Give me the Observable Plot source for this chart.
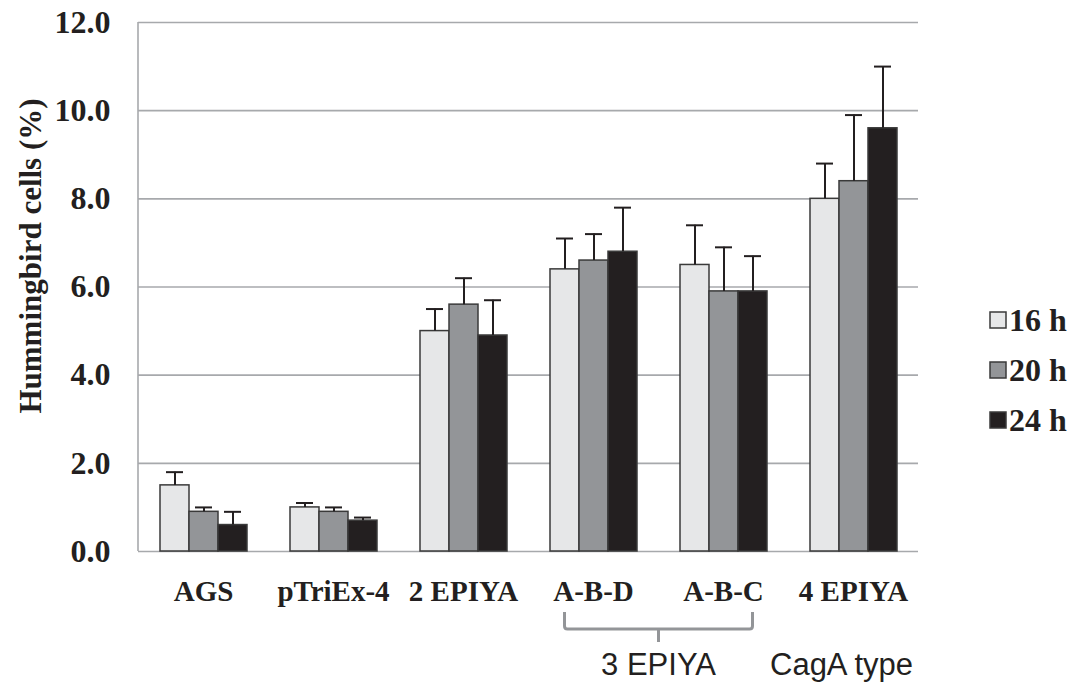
<!DOCTYPE html>
<html><head><meta charset="utf-8">
<script src="https://cdn.jsdelivr.net/npm/d3@7"></script>
<script src="https://cdn.jsdelivr.net/npm/@observablehq/plot@0.6"></script>
<style>body{margin:0;background:#fff}</style>
</head><body><div id="chart"></div>
<script>
const categories = ["AGS", "pTriEx-4", "2 EPIYA", "A-B-D", "A-B-C", "4 EPIYA"];
const series = ["16 h", "20 h", "24 h"];
const values16 = [1.5, 1.0, 5.0, 6.4, 6.5, 8.0];
const values20 = [0.9, 0.9, 5.6, 6.6, 5.9, 8.4];
const values24 = [0.6, 0.7, 4.9, 6.8, 5.9, 9.6];
const errors16 = [0.3, 0.1, 0.5, 0.7, 0.9, 0.8];
const errors20 = [0.1, 0.1, 0.6, 0.6, 1.0, 1.5];
const errors24 = [0.3, 0.07, 0.8, 1.0, 0.8, 1.4];
const colors = ["#e6e7e8", "#939598", "#231f20"];
const yTicks = [0, 2, 4, 6, 8, 10, 12];
const yLabel = "Hummingbird cells (%)";
const groupLabel = "3 EPIYA";
const groupMembers = ["A-B-D", "A-B-C"];
const axisNote = "CagA type";

const valueSets = [values16, values20, values24];
const errorSets = [errors16, errors20, errors24];
const rows = [];
categories.forEach((c, i) => series.forEach((s, j) => rows.push({category: c, series: s, value: valueSets[j][i], error: errorSets[j][i]})));

const serif = "'Liberation Serif', 'Times New Roman', serif";
const sans = "'Liberation Sans', Arial, sans-serif";
const W = 1072, H = 686, mL = 138, mR = 154, mT = 22, mB = 135;

const plot = Plot.plot({
  width: W, height: H, marginTop: mT, marginBottom: mB, marginLeft: mL, marginRight: mR,
  style: {background: "#fff", fontFamily: serif, color: "#231f20"},
  fx: {domain: categories, padding: 0, label: null, axis: null},
  x: {domain: series, paddingInner: 0, paddingOuter: 0.74, axis: null},
  y: {domain: [0, 12], axis: null},
  color: {domain: series, range: colors},
  marks: [
    Plot.ruleY(yTicks, {stroke: "#a7a9ac", strokeWidth: 1.6}),
    Plot.barY(rows, {fx: "category", x: "series", y: "value", fill: "series", stroke: "#3a3a3a", strokeWidth: 1.5}),
    Plot.ruleX(rows, {fx: "category", x: "series", y1: "value", y2: d => d.value + d.error, stroke: "#231f20", strokeWidth: 2}),
    Plot.tickY(rows, {fx: "category", x: "series", y: d => d.value + d.error, stroke: "#231f20", strokeWidth: 2, insetLeft: 6, insetRight: 6}),
    Plot.axisFx({anchor: "bottom", tickSize: 0, tickPadding: 29, fontSize: 29, fontWeight: "bold", label: null}),
    Plot.axisY({ticks: yTicks, tickFormat: d => d.toFixed(1), tickSize: 0, tickPadding: 28, fontSize: 32, fontWeight: "bold", label: null})
  ]
});
document.getElementById("chart").appendChild(plot);

const svg = d3.select(plot);
const fx = plot.scale("fx"), xs = plot.scale("x"), ys = plot.scale("y");
const px = (c, s) => fx.apply(c) + (xs.apply(s) - xs.range[0]) + xs.bandwidth / 2;

// left axis line
svg.append("line").attr("x1", mL).attr("x2", mL)
  .attr("y1", ys.apply(12)).attr("y2", ys.apply(0))
  .attr("stroke", "#a7a9ac").attr("stroke-width", 1.6);

// y label
svg.append("text").attr("transform", "translate(30,256) rotate(-90)")
  .attr("text-anchor", "middle").attr("dominant-baseline", "central")
  .attr("font-family", serif).attr("font-size", 31).attr("font-weight", "bold")
  .attr("fill", "#231f20").text(yLabel);

// bracket
const bx1 = px(groupMembers[0], series[0]), bx2 = px(groupMembers[1], series[2]), bm = (bx1 + bx2) / 2;
const by0 = 612, by1 = 629, by2 = 642;
svg.append("path")
  .attr("d", `M${bx1},${by0}V${by1 - 3}Q${bx1},${by1} ${bx1 + 3},${by1}H${bx2 - 3}Q${bx2},${by1} ${bx2},${by1 - 3}V${by0}M${bm},${by1}V${by2}`)
  .attr("fill", "none").attr("stroke", "#939598").attr("stroke-width", 3);
svg.append("text").attr("x", bm).attr("y", 675).attr("text-anchor", "middle")
  .attr("font-family", sans).attr("font-size", 31)
  .attr("fill", "#231f20").text(groupLabel);
svg.append("text").attr("x", fx.apply(categories[5]) - 18).attr("y", 675).attr("text-anchor", "start")
  .attr("font-family", sans).attr("font-size", 31)
  .attr("fill", "#231f20").text(axisNote);

// legend
const lg = svg.append("g").attr("text-anchor", "start");
series.forEach((s, j) => {
  const cy = 320 + j * 50;
  lg.append("rect").attr("x", 990).attr("y", cy - 8).attr("width", 16).attr("height", 16)
    .attr("fill", colors[j]).attr("stroke", "#3a3a3a").attr("stroke-width", 1.5);
  lg.append("text").attr("x", 1009).attr("y", cy + 11).attr("text-anchor", "start")
    .attr("font-family", serif).attr("font-size", 32).attr("font-weight", "bold")
    .attr("fill", "#231f20").text(s);
});
</script>
</body></html>
